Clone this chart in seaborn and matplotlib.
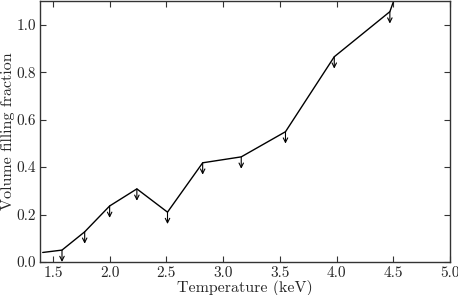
import matplotlib
matplotlib.use("Agg")
import matplotlib.pyplot as plt
import seaborn as sns
import pandas as pd

temperature = [1.41, 1.58, 1.78, 2.00, 2.24, 2.51, 2.82, 3.16, 3.55, 3.98, 4.47, 5.01]
filling = [0.040, 0.050, 0.127, 0.236, 0.308, 0.210, 0.418, 0.443, 0.549, 0.865, 1.055, 1.78]
xticks = [1.5, 2.0, 2.5, 3.0, 3.5, 4.0, 4.5, 5.0]
yticks = [0.0, 0.2, 0.4, 0.6, 0.8, 1.0]

sns.set_style("ticks")
plt.rcParams.update({
    "font.family": ["cmr10", "DejaVu Serif"],
    "mathtext.fontset": "cm",
    "axes.formatter.use_mathtext": True,
    "xtick.direction": "in",
    "ytick.direction": "in",
    "xtick.top": True,
    "ytick.right": True,
    "axes.edgecolor": "#333333",
    "axes.linewidth": 1.0,
})

df = pd.DataFrame({"T": temperature, "f": filling})

fig = plt.figure(figsize=(4.58, 2.95), dpi=100)
ax = fig.add_axes([0.0873, 0.112, 0.8952, 0.8846])
sns.lineplot(data=df, x="T", y="f", ax=ax, color="black", lw=1.0, sort=False)

arrow_len = 0.05
for t, f in zip(temperature, filling):
    ax.annotate("", xy=(t, f - arrow_len), xytext=(t, f),
                arrowprops=dict(arrowstyle="->", lw=0.8, color="black",
                                mutation_scale=8, shrinkA=0, shrinkB=0),
                annotation_clip=True)

ax.set_xlim(1.386, 5.0)
ax.set_ylim(0.0, 1.1)
ax.set_xticks(xticks)
ax.set_yticks(yticks)
ax.set_xticklabels([f"{v:.1f}" for v in xticks])
ax.set_yticklabels([f"{v:.1f}" for v in yticks])
ax.tick_params(labelsize=11, length=4, width=0.8, color="#333333", pad=3)
ax.set_xlabel("Temperature (keV)", fontsize=11.5, labelpad=0)
ax.set_ylabel("Volume filling fraction", fontsize=11.5, labelpad=1)

fig.savefig("out.png", dpi=100)
